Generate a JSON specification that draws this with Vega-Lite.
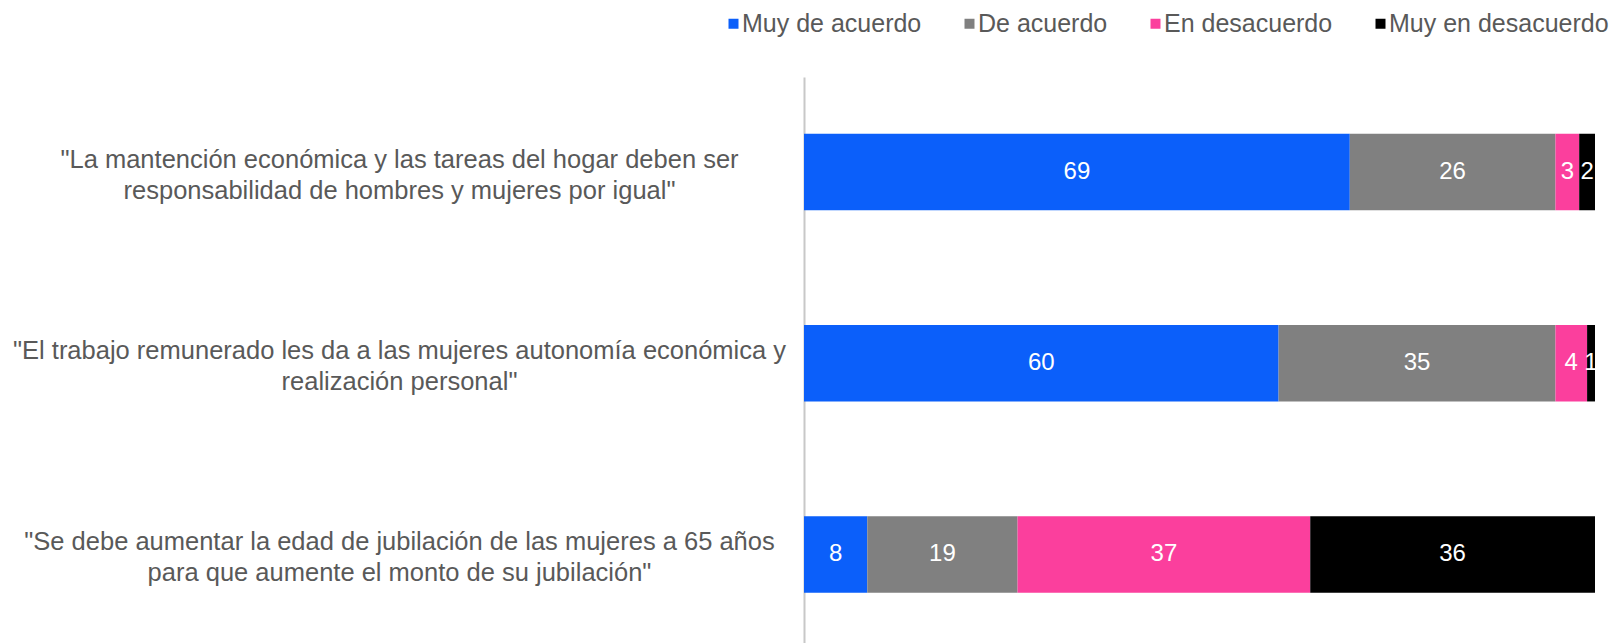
{
  "$schema": "https://vega.github.io/schema/vega-lite/v6.json",
  "width": 791,
  "height": 566,
  "autosize": {"type": "none"},
  "padding": {"left": 804, "top": 77, "right": 22, "bottom": 0},
  "background": "white",
  "config": {"view": {"stroke": null}, "font": "Liberation Sans"},
  "data": {
    "values": [
      {"frase": "\"La mantención económica y las tareas del hogar deben ser|responsabilidad de hombres y mujeres por igual\"", "resp": "Muy de acuerdo", "n": 1, "valor": 69},
      {"frase": "\"La mantención económica y las tareas del hogar deben ser|responsabilidad de hombres y mujeres por igual\"", "resp": "De acuerdo", "n": 2, "valor": 26},
      {"frase": "\"La mantención económica y las tareas del hogar deben ser|responsabilidad de hombres y mujeres por igual\"", "resp": "En desacuerdo", "n": 3, "valor": 3},
      {"frase": "\"La mantención económica y las tareas del hogar deben ser|responsabilidad de hombres y mujeres por igual\"", "resp": "Muy en desacuerdo", "n": 4, "valor": 2},
      {"frase": "\"El trabajo remunerado les da a las mujeres autonomía económica y|realización personal\"", "resp": "Muy de acuerdo", "n": 1, "valor": 60},
      {"frase": "\"El trabajo remunerado les da a las mujeres autonomía económica y|realización personal\"", "resp": "De acuerdo", "n": 2, "valor": 35},
      {"frase": "\"El trabajo remunerado les da a las mujeres autonomía económica y|realización personal\"", "resp": "En desacuerdo", "n": 3, "valor": 4},
      {"frase": "\"El trabajo remunerado les da a las mujeres autonomía económica y|realización personal\"", "resp": "Muy en desacuerdo", "n": 4, "valor": 1},
      {"frase": "\"Se debe aumentar la edad de jubilación de las mujeres a 65 años|para que aumente el monto de su jubilación\"", "resp": "Muy de acuerdo", "n": 1, "valor": 8},
      {"frase": "\"Se debe aumentar la edad de jubilación de las mujeres a 65 años|para que aumente el monto de su jubilación\"", "resp": "De acuerdo", "n": 2, "valor": 19},
      {"frase": "\"Se debe aumentar la edad de jubilación de las mujeres a 65 años|para que aumente el monto de su jubilación\"", "resp": "En desacuerdo", "n": 3, "valor": 37},
      {"frase": "\"Se debe aumentar la edad de jubilación de las mujeres a 65 años|para que aumente el monto de su jubilación\"", "resp": "Muy en desacuerdo", "n": 4, "valor": 36}
    ]
  },
  "encoding": {
    "y": {
      "field": "frase", "type": "nominal", "sort": null, "title": null,
      "scale": {"paddingInner": 0.6, "paddingOuter": 0.28, "align": 0.53},
      "axis": {
        "domainColor": "#c8c8c8", "domainWidth": 2, "ticks": false, "tickSize": 0,
        "labelPadding": 405, "labelAlign": "center", "labelBaseline": "middle",
        "labelFontSize": 25.5, "labelColor": "#595959", "labelLineHeight": 31,
        "labelOffset": -12,
        "labelExpr": "split(datum.label, '|')", "labelLimit": 0
      }
    }
  },
  "layer": [
    {
      "mark": {"type": "bar"},
      "encoding": {
        "x": {"field": "valor", "type": "quantitative", "stack": "zero", "scale": {"domain": [0, 100]}, "axis": null},
        "color": {
          "field": "resp", "type": "nominal",
          "scale": {
            "domain": ["Muy de acuerdo", "De acuerdo", "En desacuerdo", "Muy en desacuerdo"],
            "range": ["#0b5ffa", "#808080", "#fb3f9d", "#000000"]
          },
          "legend": {
            "title": null, "orient": "none", "legendX": -83, "legendY": -66,
            "direction": "horizontal", "symbolType": "square", "symbolSize": 100,
            "symbolStrokeWidth": 0, "labelFontSize": 25, "labelColor": "#595959",
            "columnPadding": 35, "labelOffset": -4, "padding": 0, "labelLimit": 0
          }
        },
        "order": {"field": "n", "type": "quantitative"}
      }
    },
    {
      "mark": {"type": "text", "color": "white", "fontSize": 24, "baseline": "middle", "align": "center"},
      "encoding": {
        "x": {"field": "valor", "type": "quantitative", "stack": "zero", "bandPosition": 0.5},
        "detail": {"field": "resp", "type": "nominal"},
        "order": {"field": "n", "type": "quantitative"},
        "text": {"field": "valor", "type": "quantitative"}
      }
    }
  ]
}
